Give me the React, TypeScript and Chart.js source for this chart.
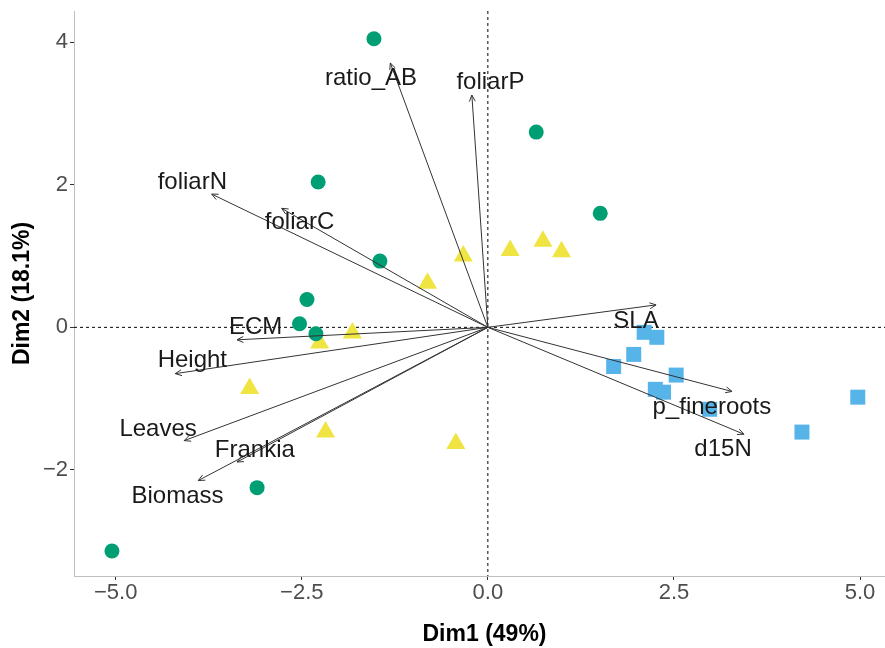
import { useEffect, useRef } from 'react';
import { Chart, registerables } from 'chart.js';

Chart.register(...registerables);

// Individuals (three groups)
const groupAX = [-1.53, 0.65, -2.28, 1.51, -1.45, -2.43, -2.53, -2.31, -3.10, -5.05];
const groupAY = [4.05, 2.74, 2.04, 1.60, 0.93, 0.39, 0.05, -0.09, -2.25, -3.14];
const groupBX = [-0.33, 0.30, 0.74, 0.99, -0.81, -1.82, -2.26, -3.20, -2.18, -0.43];
const groupBY = [1.00, 1.08, 1.21, 1.06, 0.62, -0.08, -0.22, -0.86, -1.47, -1.63];
const groupCX = [2.10, 2.27, 1.96, 1.69, 2.53, 2.25, 2.36, 2.98, 4.22, 4.97];
const groupCY = [-0.07, -0.14, -0.38, -0.55, -0.67, -0.87, -0.91, -1.15, -1.47, -0.98];

// Variables (arrows)
const variables = ['ratio_AB', 'foliarP', 'foliarN', 'foliarC', 'SLA', 'ECM', 'Height', 'Leaves', 'Frankia', 'Biomass', 'p_fineroots', 'd15N'];
const arrowX = [-1.31, -0.215, -3.71, -2.77, 2.26, -3.37, -4.20, -4.08, -3.37, -3.89, 3.28, 3.44];
const arrowY = [3.71, 3.26, 1.87, 1.67, 0.315, -0.175, -0.65, -1.59, -1.89, -2.15, -0.90, -1.50];
const labelX = [-1.57, 0.035, -3.97, -2.53, 1.99, -3.12, -3.97, -4.43, -3.13, -4.17, 3.01, 3.16];
const labelY = [3.50, 3.44, 2.04, 1.47, 0.09, 0.005, -0.47, -1.43, -1.73, -2.37, -1.12, -1.71];

// Axes
const xTicks = [-5, -2.5, 0, 2.5, 5];
const yTicks = [-2, 0, 2, 4];
const xRange = [-5.56, 5.47];
const yRange = [-3.49, 4.44];
const xTitle = 'Dim1 (49%)';
const yTitle = 'Dim2 (18.1%)';

const FONT = "'Liberation Sans', Arial, sans-serif";

const biplotPlugin = {
  id: 'biplot',
  beforeDatasetsDraw(chart: any) {
    const { ctx, chartArea, scales } = chart;
    const x0 = scales.x.getPixelForValue(0);
    const y0 = scales.y.getPixelForValue(0);
    ctx.save();
    ctx.strokeStyle = '#000';
    ctx.lineWidth = 1;
    ctx.setLineDash([3, 3]);
    ctx.beginPath();
    ctx.moveTo(chartArea.left, y0);
    ctx.lineTo(chartArea.right, y0);
    ctx.moveTo(x0, chartArea.top);
    ctx.lineTo(x0, chartArea.bottom);
    ctx.stroke();
    ctx.restore();
  },
  afterDatasetsDraw(chart: any) {
    const { ctx, scales } = chart;
    const x0 = scales.x.getPixelForValue(0);
    const y0 = scales.y.getPixelForValue(0);
    ctx.save();
    ctx.strokeStyle = '#333';
    ctx.lineWidth = 1;
    const len = 7;
    const ang = (25 * Math.PI) / 180;
    variables.forEach((_, i) => {
      const tx = scales.x.getPixelForValue(arrowX[i]);
      const ty = scales.y.getPixelForValue(arrowY[i]);
      const a = Math.atan2(ty - y0, tx - x0);
      ctx.beginPath();
      ctx.moveTo(tx - len * Math.cos(a - ang), ty - len * Math.sin(a - ang));
      ctx.lineTo(tx, ty);
      ctx.lineTo(tx - len * Math.cos(a + ang), ty - len * Math.sin(a + ang));
      ctx.stroke();
    });
    ctx.fillStyle = '#1a1a1a';
    ctx.font = `24px ${FONT}`;
    ctx.textAlign = 'center';
    ctx.textBaseline = 'middle';
    variables.forEach((name, i) => {
      ctx.fillText(name, scales.x.getPixelForValue(labelX[i]), scales.y.getPixelForValue(labelY[i]));
    });
    ctx.restore();
  },
};

const toPts = (xs: number[], ys: number[]) => xs.map((x, i) => ({ x, y: ys[i] }));
const fmtMinus = (s: string) => s.replace('-', '\u2212');
const zeroPad = (s: any) => {
  s.paddingTop = 0;
  s.paddingBottom = 0;
  s.paddingLeft = 0;
  s.paddingRight = 0;
};

export default function App() {
  const ref = useRef<HTMLCanvasElement>(null);

  useEffect(() => {
    document.body.style.margin = '0';
    if (!ref.current) return;
    const arrowSets = variables.map((name, i) => ({
      label: name,
      data: [
        { x: 0, y: 0 },
        { x: arrowX[i], y: arrowY[i] },
      ],
      showLine: true,
      borderColor: '#333333',
      borderWidth: 1,
      pointRadius: 0,
      fill: false,
      order: 0,
    }));
    const chart = new Chart(ref.current, {
      type: 'scatter',
      data: {
        datasets: [
          ...arrowSets,
          { label: 'A', data: toPts(groupAX, groupAY), pointStyle: 'circle', pointRadius: 7.5, backgroundColor: '#009E73', borderColor: '#009E73', borderWidth: 0, order: 1 },
          { label: 'B', data: toPts(groupBX, groupBY), pointStyle: 'triangle', pointRadius: 11, backgroundColor: '#F0E442', borderColor: '#F0E442', borderWidth: 0, order: 1 },
          { label: 'C', data: toPts(groupCX, groupCY), pointStyle: 'rect', pointRadius: 10.6, backgroundColor: '#56B4E9', borderColor: '#56B4E9', borderWidth: 0, order: 1 },
        ] as any,
      },
      options: {
        animation: false,
        responsive: false,
        devicePixelRatio: 1,
        layout: { padding: { top: 9, right: 5, left: 0, bottom: 0 } },
        plugins: { legend: { display: false }, tooltip: { enabled: false } },
        scales: {
          x: {
            type: 'linear',
            min: xRange[0],
            max: xRange[1],
            afterBuildTicks: (s: any) => { s.ticks = xTicks.map((v) => ({ value: v })); },
            afterFit: (s: any) => { s.height = 72; zeroPad(s); },
            ticks: { callback: (v: any) => fmtMinus(Number(v).toFixed(1)), color: '#4D4D4D', font: { family: FONT, size: 22 }, padding: 0, maxRotation: 0 },
            grid: { drawOnChartArea: false, drawTicks: true, tickLength: 4, color: '#333333' },
            border: { display: true, color: '#BEBEBE', width: 1 },
            title: { display: true, text: xTitle, color: '#000', font: { family: FONT, size: 23, weight: 'bold' }, padding: { top: 0, bottom: 0 } },
          },
          y: {
            type: 'linear',
            min: yRange[0],
            max: yRange[1],
            afterBuildTicks: (s: any) => { s.ticks = yTicks.map((v) => ({ value: v })); },
            afterFit: (s: any) => { s.width = 74; zeroPad(s); },
            ticks: { callback: (v: any) => fmtMinus(String(v)), color: '#4D4D4D', font: { family: FONT, size: 22 }, padding: 2 },
            grid: { drawOnChartArea: false, drawTicks: true, tickLength: 4, color: '#333333' },
            border: { display: true, color: '#BEBEBE', width: 1 },
            title: { display: true, text: yTitle, color: '#000', font: { family: FONT, size: 23, weight: 'bold' }, padding: { top: 9, bottom: 0 } },
          },
        },
      },
      plugins: [biplotPlugin],
    });
    return () => chart.destroy();
  }, []);

  return (
    <div style={{ position: 'relative', width: 885, height: 648, overflow: 'hidden', background: '#fff' }}>
      <canvas ref={ref} width={906} height={648} style={{ display: 'block', width: 906, height: 648 }} />
    </div>
  );
}
